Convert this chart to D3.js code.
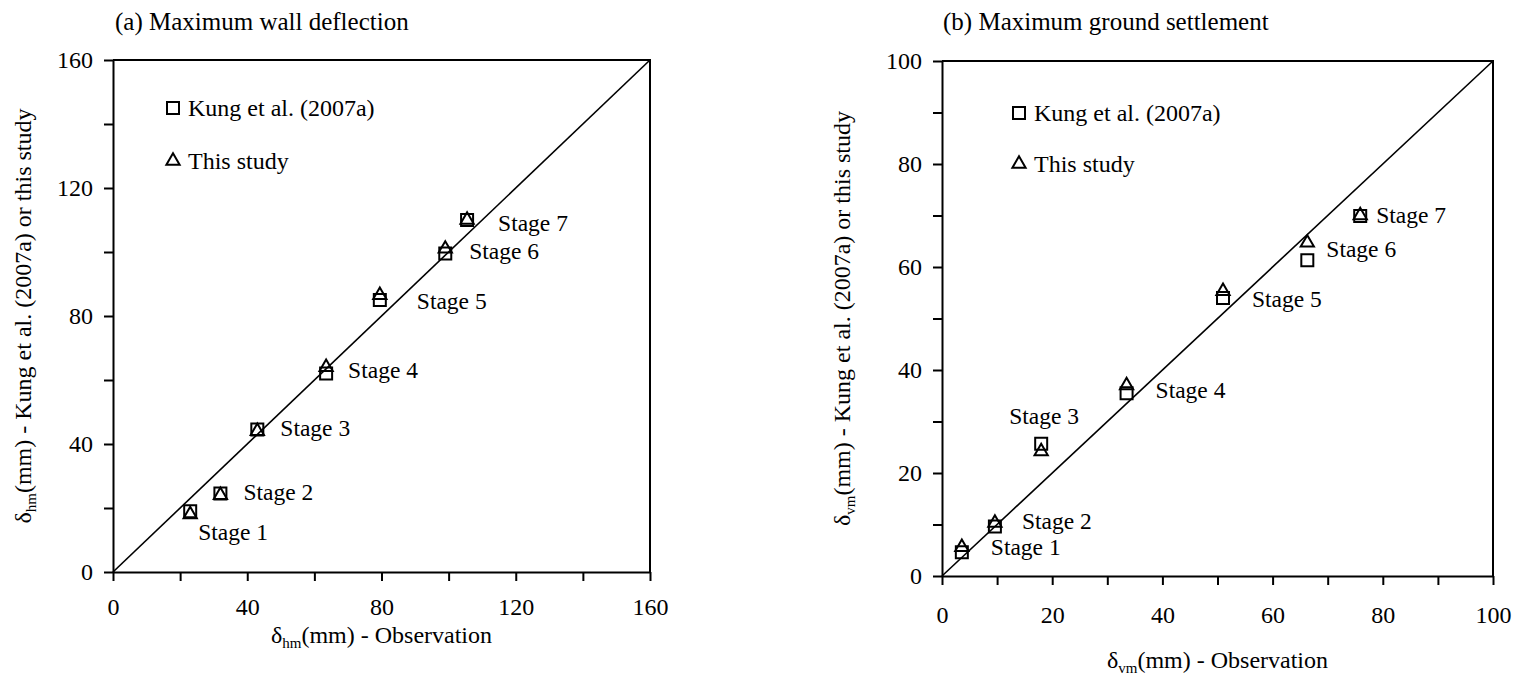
<!DOCTYPE html>
<html>
<head>
<meta charset="utf-8">
<script src="https://cdn.jsdelivr.net/npm/d3@7"></script>
<style>
  html, body { margin: 0; padding: 0; background: #fff; }
  svg { display: block; }
  text { font-family: "Liberation Serif", "Times New Roman", Times, serif; fill: #000; }
</style>
</head>
<body>
<svg id="chart" width="1518" height="679"></svg>
<script>
// ---- data -------------------------------------------------------------
const stages = ["Stage 1", "Stage 2", "Stage 3", "Stage 4", "Stage 5", "Stage 6", "Stage 7"];

// (a) maximum wall deflection, mm
const wallObserved   = [23, 32, 43, 63.5, 79.5, 99, 105.5];
const wallKung       = [19, 24.5, 44.5, 62, 85, 99.5, 110];
const wallThisStudy  = [18, 24, 44, 64, 86.5, 101, 110];

// (b) maximum ground settlement, mm
const settleObserved  = [3.6, 9.6, 18, 33.5, 51, 66.3, 75.9];
const settleKung      = [4.6, 9.6, 25.7, 35.5, 54, 61.3, 69.9];
const settleThisStudy = [5.6, 10.3, 24.2, 37, 55.3, 64.7, 70];

// axis ticks (every tick gets a mark, labelled ones listed separately)
const wallTicks = [0, 20, 40, 60, 80, 100, 120, 140, 160];
const wallTickLabels = [0, 40, 80, 120, 160];
const settleTicks = [0, 10, 20, 30, 40, 50, 60, 70, 80, 90, 100];
const settleTickLabels = [0, 20, 40, 60, 80, 100];

const legendNames = ["Kung et al. (2007a)", "This study"];

// ---- layout ------------------------------------------------------------
const panels = [
  {
    title: "(a) Maximum wall deflection", titleX: 115,
    sub: "hm",
    left: 113, top: 60, width: 537, height: 512,
    max: 160, ticks: wallTicks, labels: wallTickLabels,
    obs: wallObserved, kung: wallKung, mine: wallThisStudy,
    xPad: 17, yTitleX: 31, xTitleY: 643,
    legend: { x: 60, y1: 48, y2: 101 },
    labelOffsets: [[8, 29], [23, 6], [23, 6], [22, 4], [37, 9], [24, 5], [31, 11]]
  },
  {
    title: "(b) Maximum ground settlement", titleX: 943,
    sub: "vm",
    left: 942, top: 61, width: 551, height: 515,
    max: 100, ticks: settleTicks, labels: settleTickLabels,
    obs: settleObserved, kung: settleKung, mine: settleThisStudy,
    xPad: 21, yTitleX: 850, xTitleY: 668,
    legend: { x: 77, y1: 52, y2: 103 },
    labelOffsets: [[29, 3], [27, 2], [-32, -20], [29, 5], [29, 9], [19, -3], [16, 7]]
  }
];

const svg = d3.select("#chart");
const square = d3.symbol().type(d3.symbolSquare).size(144);
const triangle = d3.symbol().type(d3.symbolTriangle).size(76);

function subscriptLabel(sel, sub, rest) {
  sel.append("tspan").text("δ");
  sel.append("tspan").attr("font-size", 15).attr("dy", 5).text(sub);
  sel.append("tspan").attr("dy", -5).text(rest);
}

panels.forEach(p => {
  const x = d3.scaleLinear().domain([0, p.max]).range([0, p.width]);
  const y = d3.scaleLinear().domain([0, p.max]).range([p.height, 0]);
  const g = svg.append("g").attr("transform", `translate(${p.left},${p.top})`);

  // panel title
  svg.append("text")
    .attr("x", p.titleX).attr("y", 30)
    .attr("font-size", 25)
    .text(p.title);

  // axes
  const fmt = d => p.labels.includes(d) ? d : "";
  const xAxis = g.append("g")
    .attr("transform", `translate(0,${p.height})`)
    .call(d3.axisBottom(x).tickValues(p.ticks).tickFormat(fmt)
      .tickSize(9).tickSizeOuter(0).tickPadding(p.xPad));
  const yAxis = g.append("g")
    .call(d3.axisLeft(y).tickValues(p.ticks).tickFormat(fmt)
      .tickSize(9).tickSizeOuter(0).tickPadding(11));
  [xAxis, yAxis].forEach(a => {
    a.attr("font-family", null).attr("font-size", null);
    a.selectAll("path, line").attr("stroke", "#000").attr("stroke-width", 2);
    a.selectAll("text").attr("font-size", 24).attr("fill", "#000");
  });

  // top and right frame
  g.append("path")
    .attr("d", `M0,0H${p.width}V${p.height}`)
    .attr("fill", "none").attr("stroke", "#000").attr("stroke-width", 2);

  // 1:1 line
  g.append("line")
    .attr("x1", x(0)).attr("y1", y(0))
    .attr("x2", x(p.max)).attr("y2", y(p.max))
    .attr("stroke", "#000").attr("stroke-width", 1.6);

  // markers
  const pts = p.obs.map((o, i) => ({ o, k: p.kung[i], m: p.mine[i], name: stages[i], off: p.labelOffsets[i] }));
  g.selectAll(".kung").data(pts).join("path")
    .attr("d", square)
    .attr("transform", d => `translate(${x(d.o)},${y(d.k)})`)
    .attr("fill", "none").attr("stroke", "#000").attr("stroke-width", 2);
  g.selectAll(".mine").data(pts).join("path")
    .attr("d", triangle)
    .attr("transform", d => `translate(${x(d.o)},${y(d.m)})`)
    .attr("fill", "none").attr("stroke", "#000").attr("stroke-width", 2);

  // stage labels
  g.selectAll(".stage").data(pts).join("text")
    .attr("x", d => x(d.o) + d.off[0])
    .attr("y", d => y(d.k) + d.off[1])
    .attr("font-size", 23.5)
    .text(d => d.name);

  // legend
  g.append("path").attr("d", square)
    .attr("transform", `translate(${p.legend.x},${p.legend.y1})`)
    .attr("fill", "none").attr("stroke", "#000").attr("stroke-width", 2);
  g.append("text").attr("x", p.legend.x + 15).attr("y", p.legend.y1 + 8)
    .attr("font-size", 24).text(legendNames[0]);
  g.append("path").attr("d", triangle)
    .attr("transform", `translate(${p.legend.x},${p.legend.y2})`)
    .attr("fill", "none").attr("stroke", "#000").attr("stroke-width", 2);
  g.append("text").attr("x", p.legend.x + 15).attr("y", p.legend.y2 + 8)
    .attr("font-size", 24).text(legendNames[1]);

  // axis titles
  const xt = svg.append("text")
    .attr("x", p.left + p.width / 2).attr("y", p.xTitleY)
    .attr("text-anchor", "middle").attr("font-size", 24);
  subscriptLabel(xt, p.sub, "(mm) - Observation");

  const yt = svg.append("text")
    .attr("transform", `translate(${p.yTitleX},${p.top + p.height / 2}) rotate(-90)`)
    .attr("text-anchor", "middle").attr("font-size", 24);
  subscriptLabel(yt, p.sub, "(mm) - Kung et al. (2007a) or this study");
});
</script>
</body>
</html>
